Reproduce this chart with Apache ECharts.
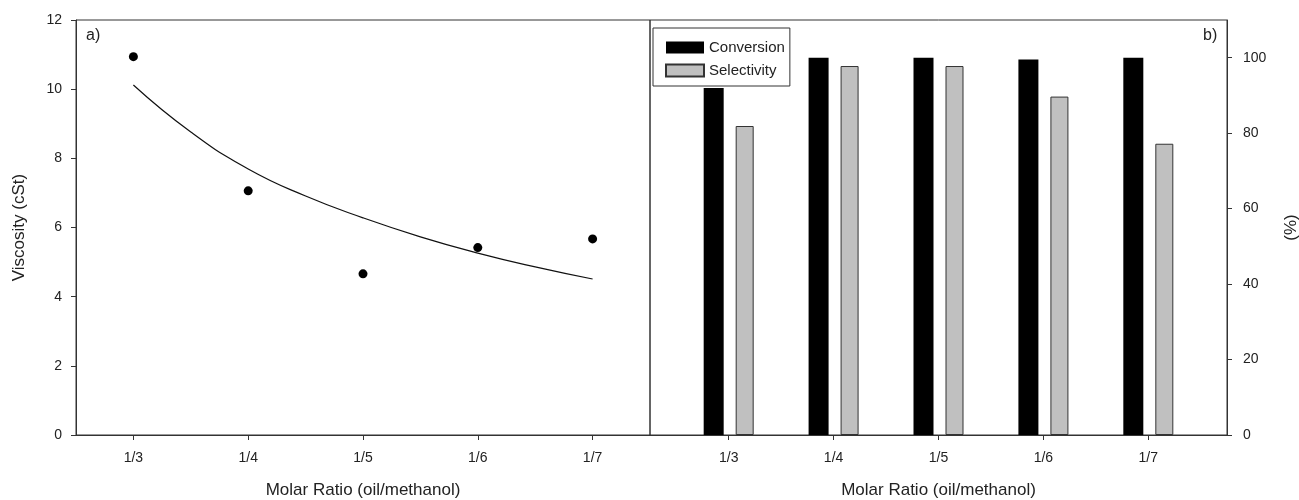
<!DOCTYPE html>
<html>
<head>
<meta charset="utf-8">
<script src="https://cdn.jsdelivr.net/npm/echarts@6/dist/echarts.min.js"></script>
<style>
html,body{margin:0;padding:0;background:#fff;}
#chart{width:1299px;height:500px;}
</style>
</head>
<body>
<div id="chart"></div>
<script>
// ---- data ----
var categories = ['1/3', '1/4', '1/5', '1/6', '1/7'];
var viscosity = [10.94, 7.06, 4.66, 5.42, 5.67];
// fitted curve (x in category positions 1..5)
var fitX = [1, 1.5, 2, 2.5, 3, 3.5, 4, 4.5, 5];
var fitY = [10.12, 8.76, 7.69, 6.91, 6.28, 5.73, 5.26, 4.86, 4.51];
var conversion = [92.0, 100.0, 100.0, 99.5, 100.0];
var selectivity = [81.9, 97.8, 97.8, 89.7, 77.2];
var leftTicks = [0, 2, 4, 6, 8, 10, 12];
var rightTicks = [0, 20, 40, 60, 80, 100];

var catPos = categories.map(function (c, i) { return i + 1; });
function pairs(xs, ys) { return xs.map(function (x, i) { return [x, ys[i]]; }); }

var font = 'Liberation Sans, Arial, sans-serif';
var axisColor = '#333';
var textColor = '#222';
var nameStyle = {fontFamily: font, fontSize: 17, color: textColor};

var chart = echarts.init(document.getElementById('chart'), null, {renderer: 'canvas'});
chart.setOption({
  animation: false,
  backgroundColor: '#fff',
  textStyle: {fontFamily: font},
  grid: [
    {left: 76, top: 20, width: 574, height: 415, outerBoundsMode: 'none', containLabel: false,
      show: true, borderColor: axisColor, borderWidth: 1, backgroundColor: 'transparent'},
    {left: 650, top: 20, width: 577, height: 415, outerBoundsMode: 'none', containLabel: false,
      show: true, borderColor: axisColor, borderWidth: 1, backgroundColor: 'transparent'}
  ],
  legend: {
    data: ['Conversion', 'Selectivity'],
    orient: 'vertical',
    left: 653, top: 28,
    itemWidth: 38, itemHeight: 12, itemGap: 8,
    padding: [12, 5, 8, 12],
    borderColor: axisColor, borderWidth: 1,
    icon: 'rect',
    textStyle: {fontFamily: font, fontSize: 15, color: textColor}
  },
  graphic: [
    {type: 'text', left: 86, top: 28, style: {text: 'a)', font: '16px ' + font, fill: textColor}},
    {type: 'text', left: 1203, top: 28, style: {text: 'b)', font: '16px ' + font, fill: textColor}}
  ],
  xAxis: [
    {
      type: 'value', gridIndex: 0, min: 0.5, max: 5.5,
      name: 'Molar Ratio (oil/methanol)', nameLocation: 'middle', nameGap: 47,
      nameTextStyle: nameStyle,
      axisLine: {show: true, onZero: false, lineStyle: {color: axisColor, width: 1}},
      axisTick: {show: true, inside: false, length: 5, customValues: catPos, lineStyle: {color: axisColor}},
      axisLabel: {customValues: catPos, margin: 16, fontSize: 14, color: textColor, fontFamily: font,
        formatter: function (v) { return categories[Math.round(v) - 1] || ''; }},
      splitLine: {show: false}
    },
    {
      type: 'value', gridIndex: 1, min: 0.25, max: 5.75,
      name: 'Molar Ratio (oil/methanol)', nameLocation: 'middle', nameGap: 47,
      nameTextStyle: nameStyle,
      axisLine: {show: true, onZero: false, lineStyle: {color: axisColor, width: 1}},
      axisTick: {show: true, inside: false, length: 5, customValues: catPos, lineStyle: {color: axisColor}},
      axisLabel: {customValues: catPos, margin: 16, fontSize: 14, color: textColor, fontFamily: font,
        formatter: function (v) { return categories[Math.round(v) - 1] || ''; }},
      splitLine: {show: false}
    }
  ],
  yAxis: [
    {
      type: 'value', gridIndex: 0, min: 0, max: 12, interval: 2,
      name: 'Viscosity (cSt)', nameLocation: 'middle', nameGap: 48, nameRotate: 90,
      nameTextStyle: nameStyle,
      axisLine: {show: true, onZero: false, lineStyle: {color: axisColor, width: 1}},
      axisTick: {show: true, inside: false, length: 5, customValues: leftTicks, lineStyle: {color: axisColor}},
      axisLabel: {customValues: leftTicks, margin: 14, fontSize: 14, color: textColor, fontFamily: font},
      splitLine: {show: false}
    },
    {
      type: 'value', gridIndex: 1, position: 'right', min: 0, max: 110,
      name: '(%)', nameLocation: 'middle', nameGap: 56, nameRotate: 90,
      nameTextStyle: nameStyle,
      axisLine: {show: true, onZero: false, lineStyle: {color: axisColor, width: 1}},
      axisTick: {show: true, inside: false, length: 5, customValues: rightTicks, lineStyle: {color: axisColor}},
      axisLabel: {customValues: rightTicks, margin: 16, fontSize: 14, color: textColor, fontFamily: font},
      splitLine: {show: false}
    }
  ],
  series: [
    {
      name: 'Fit', type: 'line', xAxisIndex: 0, yAxisIndex: 0,
      data: pairs(fitX, fitY), smooth: true, showSymbol: false, symbol: 'none',
      lineStyle: {color: '#111', width: 1.2}, silent: true, z: 2
    },
    {
      name: 'Viscosity', type: 'scatter', xAxisIndex: 0, yAxisIndex: 0,
      data: pairs(catPos, viscosity), symbol: 'circle', symbolSize: 9,
      itemStyle: {color: '#000', opacity: 1}, z: 3
    },
    {
      name: 'Conversion', type: 'bar', xAxisIndex: 1, yAxisIndex: 1,
      data: pairs(catPos, conversion), barWidth: 20, barGap: '60%',
      itemStyle: {color: '#000'}
    },
    {
      name: 'Selectivity', type: 'bar', xAxisIndex: 1, yAxisIndex: 1,
      data: pairs(catPos, selectivity), barWidth: 18, barGap: '60%',
      itemStyle: {color: '#c0c0c0', borderColor: '#333', borderWidth: 1}
    }
  ]
});
</script>
</body>
</html>
